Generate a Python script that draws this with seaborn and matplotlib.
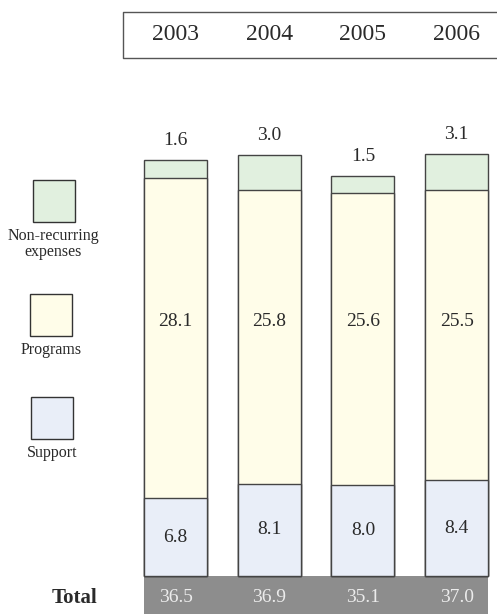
import matplotlib
matplotlib.use("Agg")
import matplotlib.pyplot as plt
from matplotlib.patches import Rectangle
import seaborn as sns
import pandas as pd

# ---- data ----
years = ["2003", "2004", "2005", "2006"]
support = [6.8, 8.1, 8.0, 8.4]
programs = [28.1, 25.8, 25.6, 25.5]
nonrecurring = [1.6, 3.0, 1.5, 3.1]
totals = [36.5, 36.9, 35.1, 37.0]
legend_labels = ["Non-recurring\nexpenses", "Programs", "Support"]
total_label = "Total"

# ---- style ----
sns.set_style("white")
plt.rcParams['font.family'] = ['Liberation Serif', 'DejaVu Serif']

c_green = "#e1f0df"
c_yellow = "#fffde9"
c_blue = "#e9eef8"
c_edge = "#444444"
c_total = "#8d8d8d"
c_total_txt = "#ececec"
txt = "#2a2a2a"

W, H = 497, 614
fig = plt.figure(figsize=(W / 100, H / 100), dpi=100)

# pixel geometry
cx0, step = 175.5, 93.7
base_px = 576.0
ppu = 11.4  # pixels per unit
L = 129.0

ax = fig.add_axes([L / W, 0, (W - L) / W, 1])
ax.patch.set_alpha(0)

df = pd.DataFrame({"year": years, "support": support,
                   "programs": programs, "nonrec": nonrecurring})
df["mid"] = df["support"] + df["programs"]
df["top"] = df["mid"] + df["nonrec"]

bw = 63.0 / step
for col, c in [("top", c_green), ("mid", c_yellow), ("support", c_blue)]:
    sns.barplot(data=df, x="year", y=col, color=c, saturation=1,
                edgecolor=c_edge, linewidth=1.0, width=bw,
                errorbar=None, ax=ax)

ax.set_xlim((L - cx0) / step, (W - cx0) / step)
ax.set_ylim(-(H - base_px) / ppu, base_px / ppu)
ax.set_axis_off()

# value labels
for i in range(len(years)):
    ax.annotate(f"{nonrecurring[i]:.1f}", (i, df["top"][i]),
                xytext=(0, 14), textcoords="offset points",
                ha="center", va="center", fontsize=14, color=txt)
    ax.text(i, (base_px - 321) / ppu, f"{programs[i]:.1f}",
            ha="center", va="center", fontsize=14, color=txt)
    ax.text(i, support[i] / 2, f"{support[i]:.1f}",
            ha="center", va="center", fontsize=14, color=txt)

# total row
x_left = -bw / 2
x_right = len(years) - 1 + bw / 2
ax.add_patch(Rectangle((x_left, -(H - base_px) / ppu), x_right - x_left,
                       (H - base_px) / ppu, facecolor=c_total,
                       edgecolor="none", clip_on=False, zorder=0))
for i in range(len(years)):
    ax.text(i, -(598 - base_px) / ppu, f"{totals[i]:.1f}",
            ha="center", va="center", fontsize=14, color=c_total_txt)

# year header
for i, y in enumerate(years):
    ax.text(i, (base_px - 35) / ppu, y, ha="center", va="center",
            fontsize=17, color=txt)

# overlay axes in pixel coordinates
ov = fig.add_axes([0, 0, 1, 1])
ov.set_xlim(0, W)
ov.set_ylim(H, 0)
ov.set_axis_off()
ov.patch.set_alpha(0)

# header box (open on the right)
ov.plot([W + 5, 123, 123, W + 5], [12, 12, 58, 58], color="#555555",
        lw=1.0, clip_on=False)

# legend
leg = [(33, 180, c_green, 53.5, 244),
       (30, 294, c_yellow, 51, 350),
       (31, 397, c_blue, 52, 453)]
for (x0, y0, c, tx, ty), lab in zip(leg, legend_labels):
    ov.add_patch(Rectangle((x0, y0), 42, 42, facecolor=c,
                           edgecolor="#333333", lw=1.0))
    ov.text(tx, ty, lab, ha="center", va="center", fontsize=11.5,
            color=txt, linespacing=1.0)

ov.text(75, 598, total_label, ha="center", va="center", fontsize=15,
        fontweight="bold", color=txt)

fig.savefig("out.png", dpi=100)
